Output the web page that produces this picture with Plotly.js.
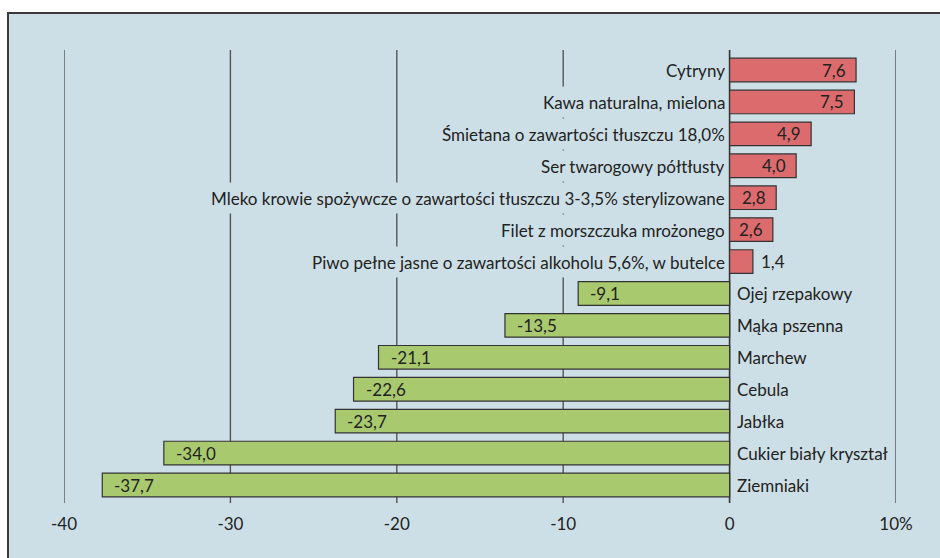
<!DOCTYPE html>
<html>
<head>
<meta charset="utf-8">
<script src="https://cdn.plot.ly/plotly-3.0.1.min.js"></script>
<style>
  html, body { margin: 0; padding: 0; background: #ffffff; }
  #frame { position: absolute; left: 7px; top: 12px; width: 940px; height: 560px;
           background: #cddfe6; border-left: 2px solid #3a3a3a; border-top: 2px solid #3a3a3a; }
  #chart { position: absolute; left: 0; top: 0; width: 940px; height: 558px; }
</style>
</head>
<body>
<div id="frame"></div>
<div id="chart"></div>
<script>
// Data (top to bottom)
const categories = [
  "Cytryny",
  "Kawa naturalna, mielona",
  "Śmietana o zawartości tłuszczu 18,0%",
  "Ser twarogowy półtłusty",
  "Mleko krowie spożywcze o zawartości tłuszczu 3-3,5% sterylizowane",
  "Filet z morszczuka mrożonego",
  "Piwo pełne jasne o zawartości alkoholu 5,6%, w butelce",
  "Ojej rzepakowy",
  "Mąka pszenna",
  "Marchew",
  "Cebula",
  "Jabłka",
  "Cukier biały kryształ",
  "Ziemniaki"
];
const values = [7.6, 7.5, 4.9, 4.0, 2.8, 2.6, 1.4, -9.1, -13.5, -21.1, -22.6, -23.7, -34.0, -37.7];
const tickVals = [-40, -30, -20, -10, 0, 10];
const tickText = ["-40", "-30", "-20", "-10", "0", "10%"];

const BG = "#cddfe6";
const RED = "#dc6b6d";
const GREEN = "#a9c96f";
const FONT = "Lato, 'Open Sans', sans-serif";
const TXT = "#222222";

const fmt = v => v.toFixed(1).replace(".", ",");

const trace = {
  type: "bar",
  orientation: "h",
  x: values,
  y: categories,
  marker: {
    color: values.map(v => v >= 0 ? RED : GREEN),
    line: { color: "#333333", width: 1.2 }
  },
  hoverinfo: "skip"
};

const annotations = [];
values.forEach((v, i) => {
  const cat = categories[i];
  // category label
  annotations.push({
    x: 0, y: cat, xref: "x", yref: "y",
    text: cat, showarrow: false,
    xanchor: v >= 0 ? "right" : "left",
    xshift: v >= 0 ? -4 : 6,
    bgcolor: BG, borderpad: 0, height: 30, valign: "middle",
    font: { family: FONT, size: 17, color: TXT }
  });
  // value label
  let xanchor, xshift;
  if (v >= 0) {
    if (v < 2) { xanchor = "left"; xshift = 6; }
    else { xanchor = "right"; xshift = -8; }
  } else { xanchor = "left"; xshift = 10; }
  annotations.push({
    x: v, y: cat, xref: "x", yref: "y",
    text: fmt(v), showarrow: false,
    xanchor: xanchor, xshift: xshift,
    font: { family: FONT, size: 17, color: TXT }
  });
});

const shapes = tickVals.map(t => ({
  type: "line", xref: "x", yref: "paper",
  x0: t, x1: t, y0: 0, y1: 1,
  layer: "below",
  line: { color: t === 0 ? "#333333" : "#555555", width: t === 0 ? 1.6 : 1.4 }
}));

const layout = {
  width: 940, height: 558,
  paper_bgcolor: "rgba(0,0,0,0)",
  plot_bgcolor: "rgba(0,0,0,0)",
  margin: { l: 64, r: 44, t: 50, b: 55 },
  bargap: 0.26,
  showlegend: false,
  xaxis: {
    range: [-40, 10],
    tickvals: tickVals, ticktext: tickText,
    showgrid: false, zeroline: false, showline: false,
    ticks: "", ticklabelstandoff: 9,
    tickfont: { family: FONT, size: 17, color: TXT },
    fixedrange: true
  },
  yaxis: {
    type: "category",
    categoryorder: "array", categoryarray: categories,
    range: [13.564, -0.627],
    showticklabels: false, showgrid: false, zeroline: false, showline: false,
    ticks: "", fixedrange: true
  },
  shapes: shapes,
  annotations: annotations
};

Plotly.newPlot("chart", [trace], layout, { displayModeBar: false, staticPlot: true });
</script>
</body>
</html>
